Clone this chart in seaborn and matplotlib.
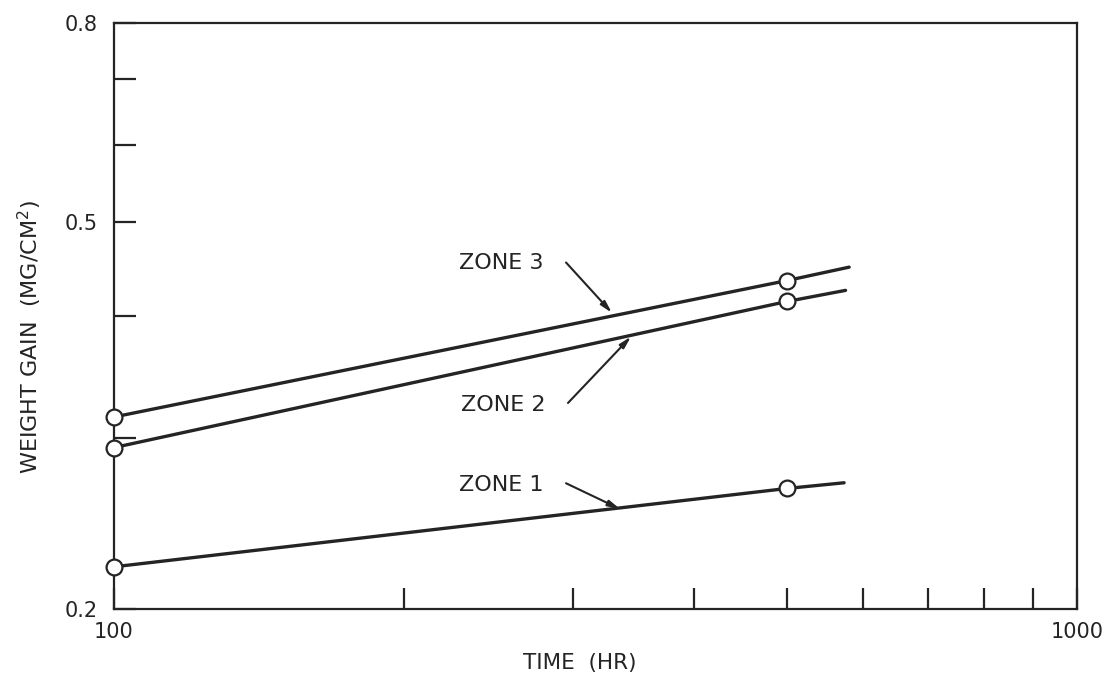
import matplotlib
matplotlib.use("Agg")
import matplotlib.pyplot as plt
from matplotlib.ticker import FixedLocator, FixedFormatter, NullLocator
import numpy as np
import pandas as pd
import seaborn as sns

# Measured weight gain at 100 h and 500 h
zones = ["ZONE 1", "ZONE 2", "ZONE 3"]
sample_times = [100, 500]
zone1_gain = [0.221, 0.266]
zone2_gain = [0.293, 0.414]
zone3_gain = [0.315, 0.435]

# Fitted power-law lines (start, through the 500 h point, to their end)
zone1_fit_time = [100, 500, 573]
zone1_fit_gain = [0.221, 0.266, 0.2696]
zone2_fit_time = [100, 500, 575]
zone2_fit_gain = [0.293, 0.414, 0.425]
zone3_fit_time = [100, 500, 580]
zone3_fit_gain = [0.315, 0.435, 0.449]

# Axis ticks
x_ticks = [100, 200, 300, 400, 500, 600, 700, 800, 900, 1000]
x_tick_labels = ["100", "", "", "", "", "", "", "", "", "1000"]
y_ticks = [0.2, 0.3, 0.4, 0.5, 0.6, 0.7, 0.8]
y_tick_labels = ["0.2", "", "", "0.5", "", "", "0.8"]

points = pd.DataFrame({
    "zone": np.repeat(zones, len(sample_times)),
    "time": sample_times * 3,
    "gain": zone1_gain + zone2_gain + zone3_gain,
})
fits = pd.DataFrame({
    "zone": np.repeat(zones, 3),
    "time": zone1_fit_time + zone2_fit_time + zone3_fit_time,
    "gain": zone1_fit_gain + zone2_fit_gain + zone3_fit_gain,
})

ink = "#242424"
sns.set_style("ticks")
plt.rcParams["font.family"] = ["DejaVu Sans"]

fig = plt.figure(figsize=(11.08, 6.76), dpi=100)
ax = fig.add_axes([0.1029, 0.0991, 0.8691, 0.8669])

palette = {z: ink for z in zones}
sns.lineplot(data=fits, x="time", y="gain", hue="zone", palette=palette,
             linewidth=2.4, legend=False, ax=ax, sort=True, zorder=2)
sns.scatterplot(data=points, x="time", y="gain", s=130, color="white",
                edgecolor=ink, linewidth=1.6, legend=False, ax=ax, zorder=3)
ax.collections[-1].set_clip_on(False)

ax.set_xscale("log")
ax.set_yscale("log")
ax.set_xlim(100, 1000)
ax.set_ylim(0.2, 0.8)

ax.xaxis.set_major_locator(FixedLocator(x_ticks))
ax.xaxis.set_major_formatter(FixedFormatter(x_tick_labels))
ax.xaxis.set_minor_locator(NullLocator())
ax.yaxis.set_major_locator(FixedLocator(y_ticks))
ax.yaxis.set_major_formatter(FixedFormatter(y_tick_labels))
ax.yaxis.set_minor_locator(NullLocator())

ax.tick_params(axis="both", direction="in", color=ink, labelcolor=ink,
               width=1.6, labelsize=15)
ax.tick_params(axis="x", length=15, pad=9)
ax.tick_params(axis="y", length=16, pad=12)

for side in ["left", "right", "top", "bottom"]:
    ax.spines[side].set_visible(True)
    ax.spines[side].set_linewidth(1.6)
    ax.spines[side].set_color(ink)

ax.set_xlabel("TIME  (HR)", fontsize=15.5, color=ink)
ax.set_ylabel("WEIGHT GAIN  (MG/CM$^{2}$)", fontsize=16, color=ink)
ax.xaxis.set_label_coords(0.484, -0.075)
ax.yaxis.set_label_coords(-0.073, 0.464)

# Zone labels with leader arrows
labels = [
    ("ZONE 3", (228.0, 0.453), (294.7, 0.454), (328.9, 0.403)),
    ("ZONE 2", (229.0, 0.324), (296.1, 0.3256), (344.3, 0.381)),
    ("ZONE 1", (228.0, 0.268), (294.7, 0.2693), (335.3, 0.2534)),
]
for text, pos, start, end in labels:
    ax.text(pos[0], pos[1], text, fontsize=16, color=ink,
            ha="left", va="center")
    ax.annotate("", xy=end, xytext=start,
                arrowprops=dict(arrowstyle="-|>,head_length=0.7,head_width=0.18",
                                color=ink, lw=1.5, shrinkA=0, shrinkB=0))

fig.savefig("out.png", dpi=100, facecolor="white")
